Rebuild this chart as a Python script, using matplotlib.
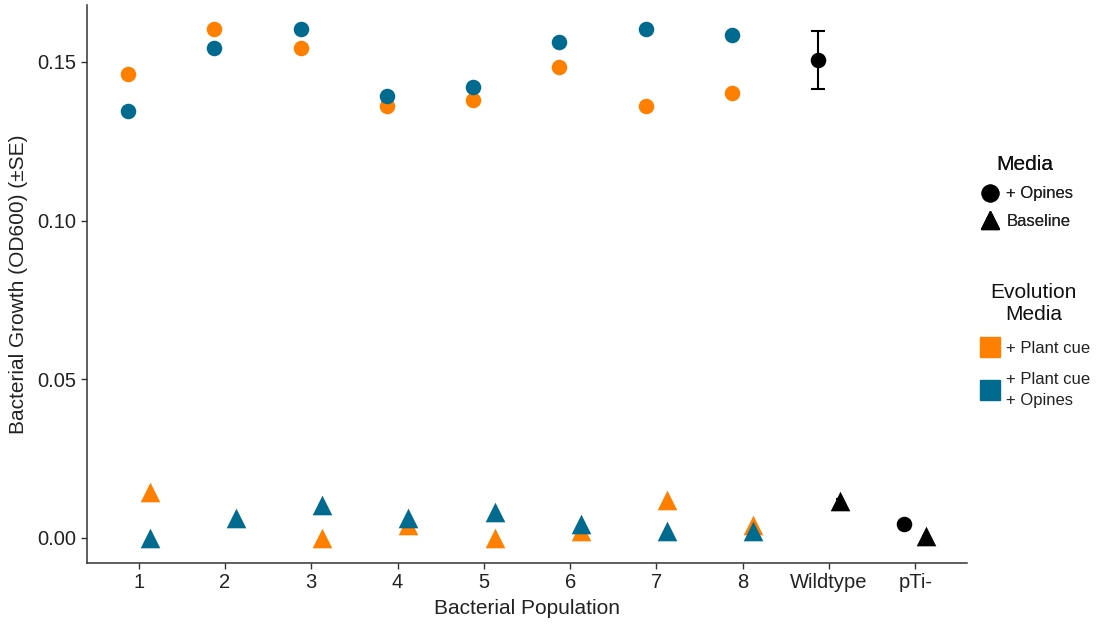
import numpy as np
import matplotlib
matplotlib.use("Agg")
import matplotlib.pyplot as plt
from matplotlib.lines import Line2D

plt.rcParams['font.family'] = ['Liberation Sans', 'DejaVu Sans']

populations = ["1", "2", "3", "4", "5", "6", "7", "8", "Wildtype", "pTi-"]

# evolved populations, OD600 by evolution media x assay media (nan = not plotted)
plant_opines = [0.1462, 0.1603, 0.1544, 0.1361, 0.1380, 0.1484, 0.1361, 0.1402]
plant_base = [0.0145, np.nan, 0.0, 0.0040, 0.0, 0.0022, 0.0120, 0.0040]
cue_opines = [0.1345, 0.1544, 0.1603, 0.1392, 0.1421, 0.1562, 0.1603, 0.1585]
cue_base = [0.0, 0.0063, 0.0104, 0.0063, 0.0082, 0.0044, 0.0022, 0.0022]

# ancestral controls: mean and SE
ctrl_opines = [0.1506, 0.0044]
ctrl_opines_se = [0.0092, 0.0004]
ctrl_base = [0.0117, 0.0006]
ctrl_base_se = [0.0007, 0.0001]

ORANGE = "#FF8000"
BLUE = "#006B8F"
dodge = 0.125

fig = plt.figure(figsize=(10.99, 6.27), dpi=100)
ax = fig.add_axes([87 / 1099, 1 - 563 / 627, 880 / 1099, 558 / 627])

x = np.arange(1, len(populations) + 1)
xe = x[:8]

circ = dict(marker="o", s=125, linewidths=0, zorder=3)
tri = dict(marker="^", s=200, linewidths=0, zorder=3)

ax.scatter(xe - dodge, plant_opines, color=ORANGE, **circ)
ax.scatter(xe - dodge, cue_opines, color=BLUE, **circ)
ax.scatter(xe + dodge, plant_base, color=ORANGE, **tri)
ax.scatter(xe + dodge, cue_base, color=BLUE, **tri)

xc = x[8:]
ax.errorbar(xc - dodge, ctrl_opines, yerr=ctrl_opines_se, fmt="none",
            ecolor="black", elinewidth=1.5, capsize=5, capthick=1.5, zorder=2)
ax.errorbar(xc + dodge, ctrl_base, yerr=ctrl_base_se, fmt="none",
            ecolor="black", elinewidth=1.5, capsize=3, capthick=1.5, zorder=2)
ax.scatter(xc - dodge, ctrl_opines, color="black", **circ)
ax.scatter(xc + dodge, ctrl_base, color="black", **tri)

ax.set_xlim(0.4, 10.6)
ax.set_ylim(-0.0079, 0.1679)
ax.set_xticks(x)
ax.set_xticklabels(populations)
ax.set_yticks([0.0, 0.05, 0.10, 0.15])
ax.set_yticklabels(["0.00", "0.05", "0.10", "0.15"])

for side in ("top", "right"):
    ax.spines[side].set_visible(False)
for side in ("left", "bottom"):
    ax.spines[side].set_color("#333333")
    ax.spines[side].set_linewidth(1.1)
ax.tick_params(colors="#333333", labelcolor="#222222", labelsize=14.5,
               length=4, width=1.0)
ax.set_xlabel("Bacterial Population", fontsize=15, color="#222222", labelpad=5)
ax.set_ylabel("Bacterial Growth (OD600) (\u00b1SE)", fontsize=15,
              color="#222222", labelpad=7)

media_handles = [
    Line2D([], [], marker="o", ls="none", color="black", markersize=12),
    Line2D([], [], marker="^", ls="none", color="black", markersize=13),
]
leg1 = fig.legend(media_handles, ["+ Opines", "Baseline"], title="Media",
                  loc="upper left", bbox_to_anchor=(962 / 1099, 1 - 140 / 627),
                  frameon=False, fontsize=12, title_fontsize=15,
                  handletextpad=0.25, labelspacing=0.75, handlelength=1.5)

evo_handles = [
    Line2D([], [], marker="s", ls="none", color=ORANGE, markersize=14),
    Line2D([], [], marker="s", ls="none", color=BLUE, markersize=14),
]
leg2 = fig.legend(evo_handles, ["+ Plant cue", "+ Plant cue\n+ Opines"],
                  title="Evolution\nMedia", loc="upper left",
                  bbox_to_anchor=(962 / 1099, 1 - 268 / 627),
                  frameon=False, fontsize=12, title_fontsize=15,
                  handletextpad=0.25, labelspacing=1.0, handlelength=1.5)
leg2.get_texts()[1].set_linespacing(1.45)
for leg in (leg1, leg2):
    leg.get_title().set_multialignment("center")
    leg.get_title().set_color("#111111")
    for t in leg.get_texts():
        t.set_color("#222222")
fig.add_artist(leg1)

fig.savefig("out.png", dpi=100)
